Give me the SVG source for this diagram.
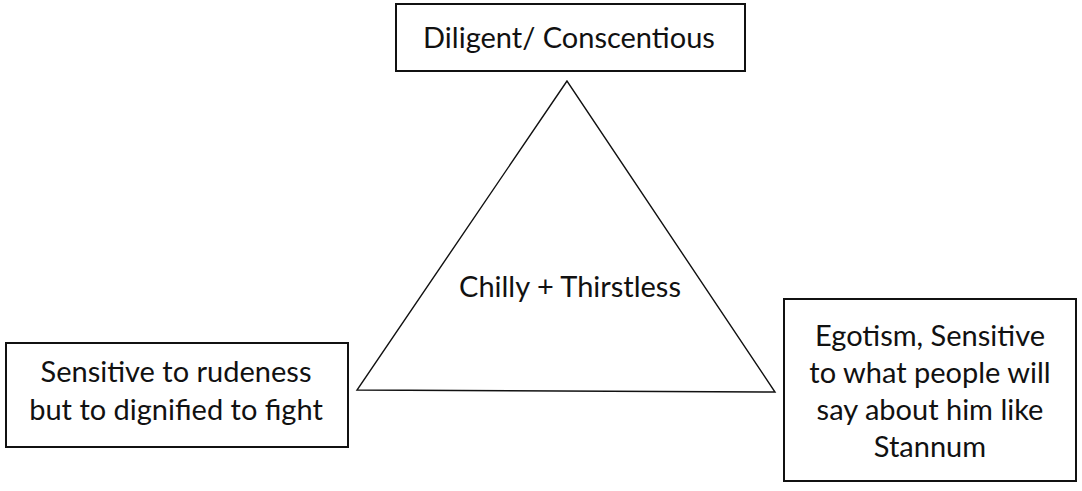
<svg xmlns="http://www.w3.org/2000/svg" width="1082" height="491" viewBox="0 0 1082 491">
<style>
.box{fill:#fff;stroke:#111;stroke-width:2}
.tri{fill:#fff;stroke:#111;stroke-width:1.4}
text{font-family:Lato,"Liberation Sans",sans-serif;font-size:29px;fill:#111;text-anchor:middle}
</style>
<rect width="1082" height="491" fill="#fff"/>
<g id="triangle">
<polygon class="tri" points="567,81 357,390 775,392"/>
<text x="570" y="297">Chilly + Thirstless</text>
</g>
<g id="top">
<rect class="box" x="396" y="4" width="349" height="67"/>
<text x="569" y="48">Diligent/ Conscentious</text>
</g>
<g id="left">
<rect class="box" x="6" y="343" width="342" height="104"/>
<text x="176" y="382">Sensitive to rudeness</text>
<text x="176" y="420">but to dignified to fight</text>
</g>
<g id="right">
<rect class="box" x="784" y="299" width="292" height="182"/>
<text x="930" y="346">Egotism, Sensitive</text>
<text x="930" y="383">to what people will</text>
<text x="930" y="420">say about him like</text>
<text x="930" y="457">Stannum</text>
</g>
<g id="connectors"></g>
</svg>
